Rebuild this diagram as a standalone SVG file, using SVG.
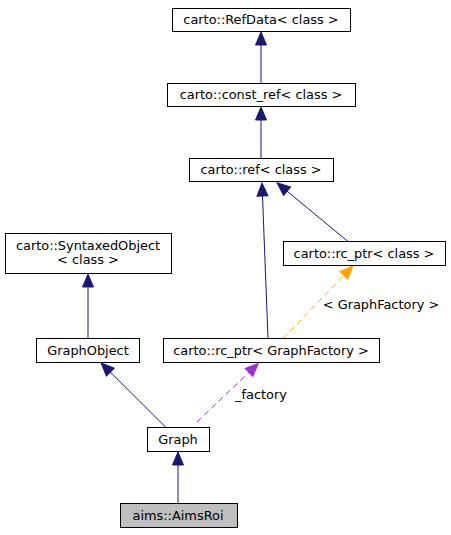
<svg xmlns="http://www.w3.org/2000/svg" width="451" height="535" viewBox="0 0 451 535">
<style>
.box{fill:#ffffff;stroke:#000000;stroke-width:1}
.hl{fill:#bfbfbf;stroke:#000000;stroke-width:1}
text{font-family:"DejaVu Sans","Liberation Sans",sans-serif;font-size:12.9px;fill:#000000;text-anchor:middle}
.e{fill:none;stroke:#191970;stroke-width:1}
.eo{fill:none;stroke:#ffa500;stroke-width:1;stroke-dasharray:6,4}
.ep{fill:none;stroke:#9a32cd;stroke-width:1;stroke-dasharray:6,4}
</style>
<defs>
<marker id="an" markerUnits="userSpaceOnUse" markerWidth="14" markerHeight="11" viewBox="0 0 14 11" refX="0" refY="5.5" orient="auto" overflow="visible"><path d="M0,0 L13,5.5 L0,11 Z" fill="#191970" stroke="#191970"/></marker>
<marker id="ao" markerUnits="userSpaceOnUse" markerWidth="14" markerHeight="11" viewBox="0 0 14 11" refX="0" refY="5.5" orient="auto" overflow="visible"><path d="M0,0 L13,5.5 L0,11 Z" fill="#ffa500" stroke="#ffa500"/></marker>
<marker id="ap" markerUnits="userSpaceOnUse" markerWidth="14" markerHeight="11" viewBox="0 0 14 11" refX="0" refY="5.5" orient="auto" overflow="visible"><path d="M0,0 L13,5.5 L0,11 Z" fill="#9a32cd" stroke="#9a32cd"/></marker>
</defs>
<g id="connectors">
<line class="e" x1="261" y1="83.5" x2="261" y2="45" marker-end="url(#an)"/>
<line class="e" x1="261" y1="158.5" x2="261" y2="120" marker-end="url(#an)"/>
<line class="e" x1="268" y1="338.5" x2="262.5" y2="196" marker-end="url(#an)"/>
<line class="e" x1="348" y1="241.5" x2="287.1" y2="191.2" marker-end="url(#an)"/>
<line class="eo" x1="283" y1="338.5" x2="343.9" y2="275.3" marker-end="url(#ao)"/>
<text x="381" y="309">&lt; GraphFactory &gt;</text>
<line class="e" x1="88" y1="338.5" x2="88" y2="287" marker-end="url(#an)"/>
<line class="e" x1="166" y1="427.5" x2="110.3" y2="372.1" marker-end="url(#an)"/>
<line class="ep" x1="197" y1="422" x2="249" y2="372.4" marker-end="url(#ap)"/>
<text x="261" y="399">_factory</text>
<line class="e" x1="178" y1="503.5" x2="178" y2="465" marker-end="url(#an)"/>
</g>
<g id="RefData"><rect class="box" x="172.5" y="8.5" width="178" height="23"/><text x="261" y="24.4">carto::RefData&lt; class &gt;</text></g>
<g id="const_ref"><rect class="box" x="167.5" y="83.5" width="188" height="23"/><text x="261" y="99.4">carto::const_ref&lt; class &gt;</text></g>
<g id="ref"><rect class="box" x="189.5" y="158.5" width="144" height="23"/><text x="261" y="174.4">carto::ref&lt; class &gt;</text></g>
<g id="SyntaxedObject"><rect class="box" x="5.5" y="233.5" width="166" height="40"/><text x="88" y="250">carto::SyntaxedObject</text><text x="88" y="264">&lt; class &gt;</text></g>
<g id="rc_ptr_class"><rect class="box" x="283.5" y="241.5" width="162" height="24"/><text x="364" y="257.9">carto::rc_ptr&lt; class &gt;</text></g>
<g id="GraphObject"><rect class="box" x="36.5" y="338.5" width="103" height="24"/><text x="88" y="354.9">GraphObject</text></g>
<g id="rc_ptr_GraphFactory"><rect class="box" x="163.5" y="338.5" width="216" height="24"/><text x="271" y="354.9">carto::rc_ptr&lt; GraphFactory &gt;</text></g>
<g id="Graph"><rect class="box" x="147.5" y="427.5" width="62" height="24"/><text x="178" y="443.9">Graph</text></g>
<g id="AimsRoi"><rect class="hl" x="120.5" y="503.5" width="117" height="24"/><text x="178" y="519.9">aims::AimsRoi</text></g>
</svg>
